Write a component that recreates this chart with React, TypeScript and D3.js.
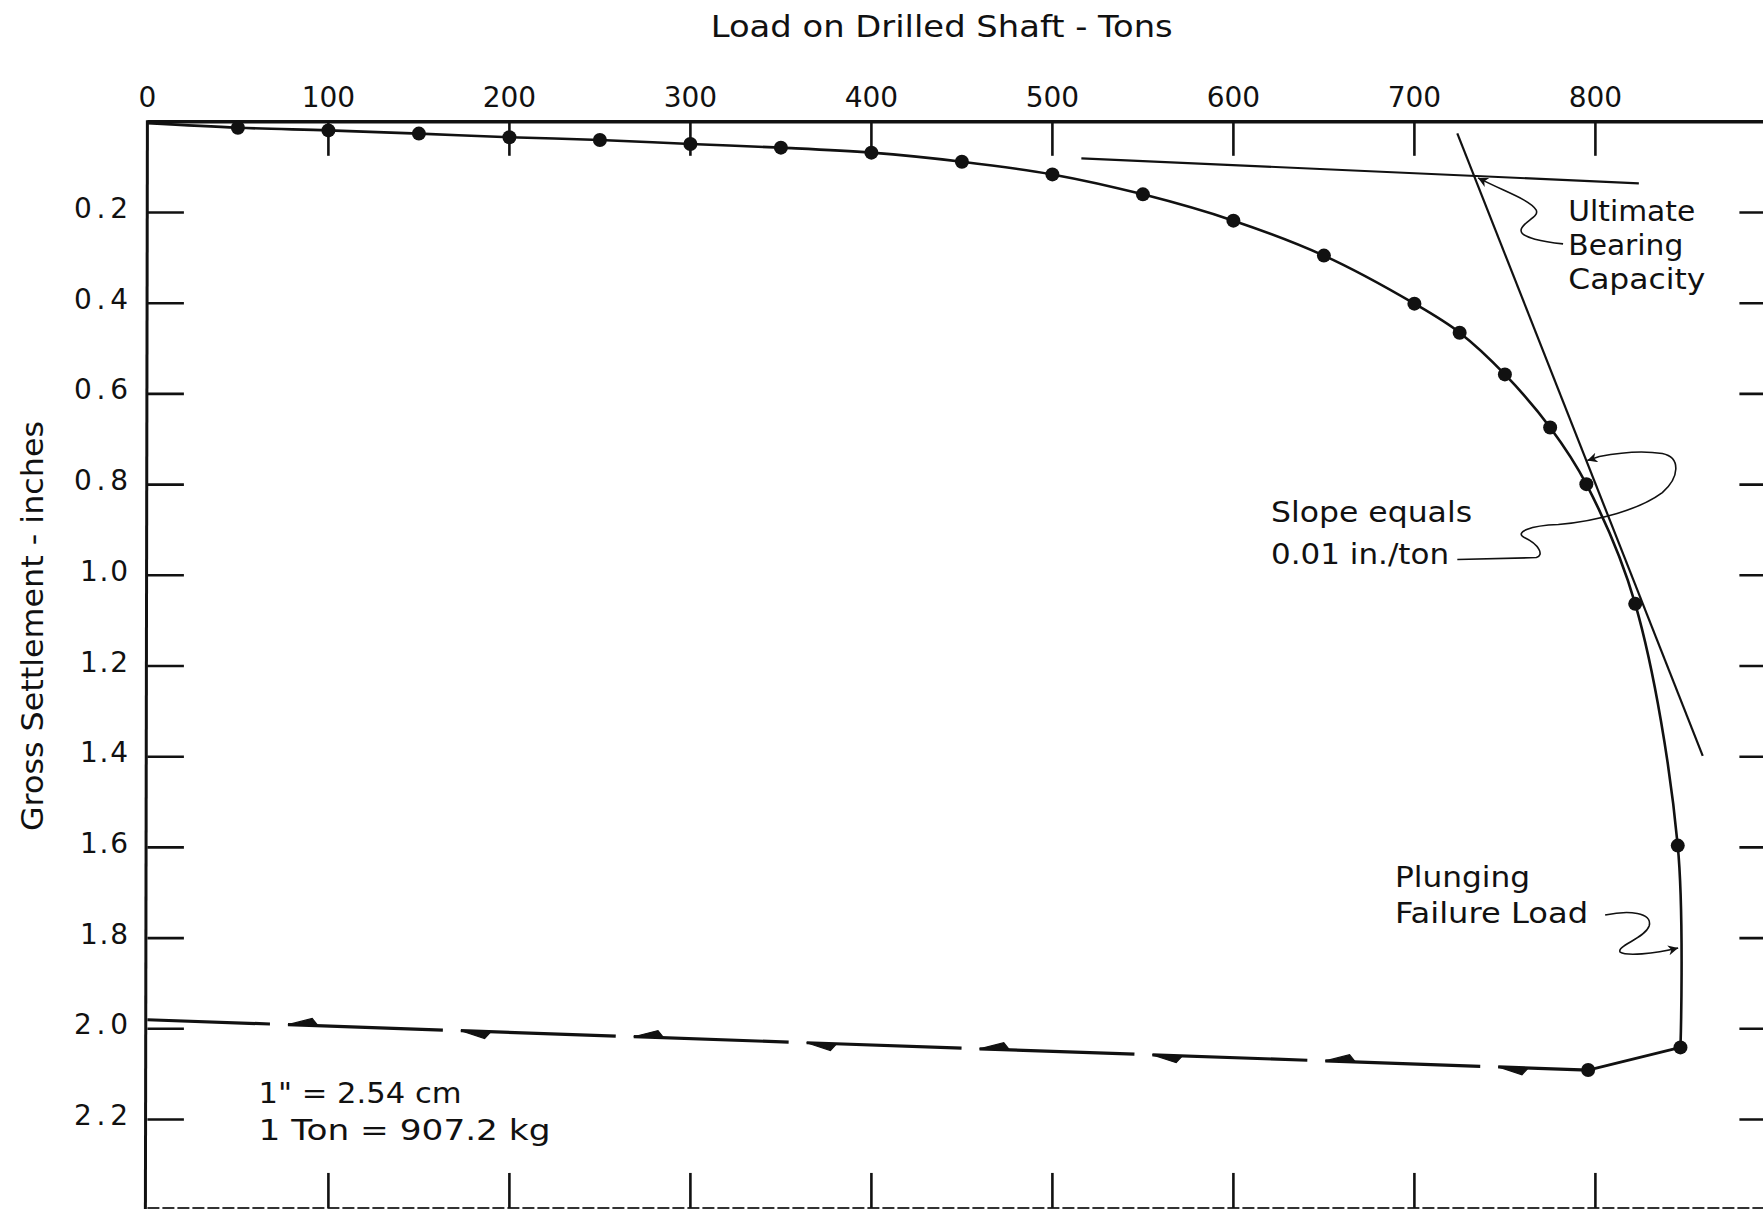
import React from "react";
import * as d3 from "d3";

const WIDTH = 1763;
const HEIGHT = 1209;
const FONT = "'DejaVu Sans', 'Liberation Sans', sans-serif";
const INK = "#111";

// ---- axis ticks ----
const loadTickValues = [0, 100, 200, 300, 400, 500, 600, 700, 800];
const loadTickLabels = ["0", "100", "200", "300", "400", "500", "600", "700", "800"];
const settlementTickValues = [0.2, 0.4, 0.6, 0.8, 1.0, 1.2, 1.4, 1.6, 1.8, 2.0, 2.2];
const settlementTickLabels = ["0.2", "0.4", "0.6", "0.8", "1.0", "1.2", "1.4", "1.6", "1.8", "2.0", "2.2"];

// ---- measured load test points (tons, inches) ----
const pointLoads = [50, 100, 150, 200, 250, 300, 350, 400, 450, 500, 550, 600, 650, 700, 725, 750, 775, 795, 822, 845.5, 847, 796];
const pointSettlements = [0.013, 0.019, 0.026, 0.034, 0.040, 0.049, 0.057, 0.068, 0.088, 0.116, 0.160, 0.218, 0.295, 0.401, 0.465, 0.557, 0.674, 0.799, 1.063, 1.596, 2.041, 2.091];

// curve origin and rebound end
const originLoad = 0;
const originSettlement = 0.003;
const reboundLoad = 0;
const reboundSettlement = 1.98;

// ---- construction lines ----
const initialTangentLoads = [516, 824];
const initialTangentSettlements = [0.0805, 0.1356];
const slopeTangentLoads = [723.7, 859.3];
const slopeTangentSettlements = [0.0254, 1.398];

export default function App() {
  const x = d3.scaleLinear().domain([0, 900]).range([147.4, 1776.4]);
  const y = d3.scaleLinear().domain([0, 2.4]).range([121.8, 1210.2]);

  const pts: [number, number][] = pointLoads.map((l, i) => [l, pointSettlements[i]]);
  const loadingPts: [number, number][] = [[originLoad, originSettlement], ...pts.slice(0, pts.length - 1)];

  const curve = d3
    .line<[number, number]>()
    .x((d) => x(d[0]))
    .y((d) => y(d[1]))
    .curve(d3.curveCatmullRom.alpha(0.5));
  const straight = d3
    .line<[number, number]>()
    .x((d) => x(d[0]))
    .y((d) => y(d[1]));

  const lastLoad = pts[pts.length - 2];
  const unloadStart = pts[pts.length - 1];

  // dashed unloading line with half-arrowheads
  const p0 = [x(unloadStart[0]), y(unloadStart[1])];
  const p1 = [x(reboundLoad), y(reboundSettlement)];
  const len = Math.hypot(p1[0] - p0[0], p1[1] - p0[1]);
  const u = [(p1[0] - p0[0]) / len, (p1[1] - p0[1]) / len];
  const nrm = [-u[1], u[0]];
  const dashes: { a: number; b: number }[] = [];
  {
    let pos = 0;
    let first = true;
    while (pos < len) {
      const dl = first ? 90 : 155;
      dashes.push({ a: pos, b: Math.min(len, pos + dl) });
      pos += dl + 18;
      first = false;
    }
  }
  const at = (d: number) => [p0[0] + u[0] * d, p0[1] + u[1] * d];

  // tangent intersection (ultimate bearing capacity)
  const s1 = (initialTangentSettlements[1] - initialTangentSettlements[0]) / (initialTangentLoads[1] - initialTangentLoads[0]);
  const s2 = (slopeTangentSettlements[1] - slopeTangentSettlements[0]) / (slopeTangentLoads[1] - slopeTangentLoads[0]);
  const ix =
    (slopeTangentSettlements[0] - s2 * slopeTangentLoads[0] - (initialTangentSettlements[0] - s1 * initialTangentLoads[0])) /
    (s1 - s2);
  const iy = initialTangentSettlements[0] + s1 * (ix - initialTangentLoads[0]);

  const slopeS = 0.747;
  const slopeT = slopeTangentLoads[0] + (slopeS - slopeTangentSettlements[0]) / s2;
  const plungeS = 1.822;
  const prev = pts[pts.length - 3];
  const plungeT = prev[0] + ((plungeS - prev[1]) / (lastLoad[1] - prev[1])) * (lastLoad[0] - prev[0]);

  const yTop = y(0);
  const yBottom = y(2.395);
  const xLeft = x(0);
  const xRight = x(900);

  return (
    <svg
      width={WIDTH}
      height={HEIGHT}
      viewBox={`0 0 ${WIDTH} ${HEIGHT}`}
      style={{ position: "absolute", left: 0, top: 0, background: "#fff" }}
      fontFamily={FONT}
    >
      <defs>
        <marker
          id="ah"
          viewBox="0 0 10 10"
          refX="10"
          refY="5"
          markerWidth="24"
          markerHeight="10"
          markerUnits="userSpaceOnUse"
          orient="auto"
        >
          <path d="M0,0 L10,5 L0,10 L3,5 Z" fill={INK} />
        </marker>
      </defs>
      <rect x={0} y={0} width={WIDTH} height={HEIGHT} fill="#fff" />

      {/* titles */}
      <text x={941.7} y={36.7} fontSize={31} textAnchor="middle" textLength={462} lengthAdjust="spacingAndGlyphs" fill={INK}>
        Load on Drilled Shaft - Tons
      </text>
      <text
        transform={`translate(43,626) rotate(-90)`}
        fontSize={30}
        textAnchor="middle"
        textLength={410}
        lengthAdjust="spacingAndGlyphs"
        fill={INK}
      >
        Gross Settlement - inches
      </text>

      {/* frame */}
      <line x1={xLeft} y1={yTop} x2={WIDTH + 5} y2={yTop} stroke={INK} strokeWidth={3.4} />
      <line x1={xLeft} y1={yTop - 1.5} x2={xLeft - 2} y2={HEIGHT + 2} stroke={INK} strokeWidth={3} />
      <line x1={xLeft} y1={yBottom} x2={WIDTH} y2={yBottom} stroke="#333" strokeWidth={2} strokeDasharray="12 3" />

      {/* load ticks top & bottom */}
      {loadTickValues.map((v, i) => (
        <g key={"lt" + i}>
          <text x={x(v)} y={yTop - 14.5} fontSize={28} textAnchor="middle" fill={INK}>
            {loadTickLabels[i]}
          </text>
          {v > 0 && <line x1={x(v)} y1={yTop} x2={x(v)} y2={yTop + 34} stroke={INK} strokeWidth={2.6} />}
          {v > 0 && <line x1={x(v)} y1={yBottom} x2={x(v)} y2={yBottom - 35} stroke={INK} strokeWidth={2.6} />}
        </g>
      ))}

      {/* settlement ticks left & right */}
      {settlementTickValues.map((v, i) => (
        <g key={"st" + i}>
          <text
            x={128}
            y={y(v) + 5.5}
            fontSize={28}
            textAnchor="end"
            textLength={settlementTickLabels[i].startsWith("1") ? 48 : 54}
            lengthAdjust="spacing"
            fill={INK}
          >
            {settlementTickLabels[i]}
          </text>
          <line x1={xLeft} y1={y(v)} x2={xLeft + 36.5} y2={y(v)} stroke={INK} strokeWidth={2.6} />
          <line x1={xRight - 37} y1={y(v)} x2={xRight} y2={y(v)} stroke={INK} strokeWidth={2.6} />
        </g>
      ))}

      {/* construction tangents */}
      <path
        d={straight(initialTangentLoads.map((l, i) => [l, initialTangentSettlements[i]]) as [number, number][]) || ""}
        stroke={INK}
        strokeWidth={2.2}
        fill="none"
      />
      <path
        d={straight(slopeTangentLoads.map((l, i) => [l, slopeTangentSettlements[i]]) as [number, number][]) || ""}
        stroke={INK}
        strokeWidth={2.2}
        fill="none"
      />

      {/* load-settlement curve */}
      <path d={curve(loadingPts) || ""} stroke={INK} strokeWidth={2.6} fill="none" />
      <path d={straight([lastLoad, unloadStart]) || ""} stroke={INK} strokeWidth={2.8} fill="none" />

      {/* unloading dashed with half-arrows */}
      {dashes.map((d, k) => {
        const a = at(d.a);
        const b = at(d.b);
        const isLast = k === dashes.length - 1;
        const side = k % 2 === 0 ? -1 : 1;
        const back1 = at(d.b - 30);
        const back2 = at(d.b - 24);
        const barb = [back2[0] + nrm[0] * 7 * side, back2[1] + nrm[1] * 7 * side];
        return (
          <g key={"ds" + k}>
            <line x1={a[0]} y1={a[1]} x2={b[0]} y2={b[1]} stroke={INK} strokeWidth={3.2} />
            {!isLast && (
              <polygon points={`${b[0]},${b[1]} ${back1[0]},${back1[1]} ${barb[0]},${barb[1]}`} fill={INK} stroke={INK} strokeWidth={1.2} />
            )}
          </g>
        );
      })}

      {/* data points */}
      {pts.map((p, i) => (
        <circle key={"pt" + i} cx={x(p[0])} cy={y(p[1])} r={7} fill={INK} />
      ))}

      {/* Ultimate bearing capacity annotation */}
      <g fontSize={29} fill={INK}>
        <text x={x(785)} y={y(0.219)} textLength={127} lengthAdjust="spacingAndGlyphs">Ultimate</text>
        <text x={x(785)} y={y(0.219) + 34} textLength={115} lengthAdjust="spacingAndGlyphs">Bearing</text>
        <text x={x(785)} y={y(0.219) + 68} textLength={137} lengthAdjust="spacingAndGlyphs">Capacity</text>
      </g>
      <path
        transform={`translate(${x(ix) + 4},${y(iy) + 2})`}
        d="M85,66 C67,64 42,60 43,52 C44,44 62,39 58,32 C52,22 27,14 0,0"
        stroke={INK}
        strokeWidth={1.6}
        fill="none"
        markerEnd="url(#ah)"
      />

      {/* Slope annotation */}
      <g fontSize={29} fill={INK}>
        <text x={x(620.8)} y={y(0.8825)} textLength={201} lengthAdjust="spacingAndGlyphs">Slope equals</text>
        <text x={x(620.8)} y={y(0.8825) + 42} textLength={178} lengthAdjust="spacingAndGlyphs">0.01 in./ton</text>
      </g>
      <path
        transform={`translate(${x(slopeT) + 1},${y(slopeS)})`}
        d="M-130,99 L-51,97 C-43,95 -48,84 -63,77 C-73,72 -58,65 -29,64 C12,60 52,49 75,32 C92,17 94,-3 75,-7 C57,-10 37,-9 12,-4 L0,0"
        stroke={INK}
        strokeWidth={1.6}
        fill="none"
        markerEnd="url(#ah)"
      />

      {/* Plunging annotation */}
      <g fontSize={29} fill={INK}>
        <text x={x(689.3)} y={y(1.687)} textLength={135} lengthAdjust="spacingAndGlyphs">Plunging</text>
        <text x={x(689.3)} y={y(1.687) + 36} textLength={193} lengthAdjust="spacingAndGlyphs">Failure Load</text>
      </g>
      <path
        transform={`translate(${x(plungeT) - 1},${y(plungeS)})`}
        d="M-73,-33 C-50,-38 -25,-36 -29,-22 C-33,-10 -62,-2 -58,4 C-52,8 -25,6 0,0"
        stroke={INK}
        strokeWidth={1.6}
        fill="none"
        markerEnd="url(#ah)"
      />

      {/* unit conversions */}
      <g fontSize={29} fill={INK}>
        <text x={x(61.4)} y={y(2.164)} textLength={203} lengthAdjust="spacingAndGlyphs">1" = 2.54 cm</text>
        <text x={x(61.4)} y={y(2.164) + 37} textLength={292} lengthAdjust="spacingAndGlyphs">1 Ton = 907.2 kg</text>
      </g>
    </svg>
  );
}
